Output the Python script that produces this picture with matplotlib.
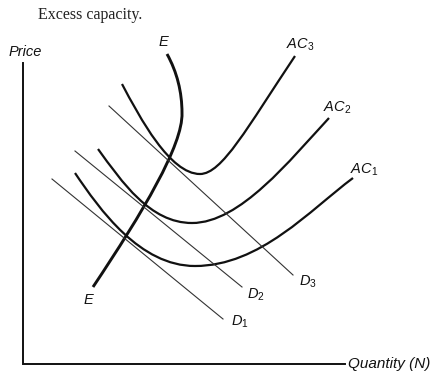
import matplotlib
matplotlib.use("Agg")
import matplotlib.pyplot as plt
from matplotlib.path import Path
from matplotlib.patches import PathPatch

plt.rcParams['mathtext.fontset'] = 'custom'
plt.rcParams['mathtext.rm'] = 'Liberation Sans'
plt.rcParams['mathtext.it'] = 'Liberation Sans:italic'

# Schematic diagram, coordinates in image units (x right, y down)
# Cubic Bezier vertex lists: anchor, ctrl, ctrl, anchor, ctrl, ctrl, anchor
ac3_pts = [(122, 84), (140, 118), (170, 174), (200, 174), (222, 174), (247, 128), (295, 56)]
ac2_pts = [(98, 149), (122, 182), (150, 223), (192, 223), (240, 223), (290, 160), (329, 118)]
ac1_pts = [(75, 173), (100, 210), (140, 266), (195, 266), (260, 266), (310, 210), (353, 178)]
e_pts = [(167, 54), (177, 72), (182, 92), (182, 113), (183, 145), (143, 212), (93, 287)]

# Demand lines (start, end)
d1 = [(52, 179), (223, 319)]
d2 = [(75, 151), (242, 287)]
d3 = [(109, 106), (293, 275)]

labels = [
    (r'$\mathit{AC}_3$', 300, 45),
    (r'$\mathit{AC}_2$', 337, 108),
    (r'$\mathit{AC}_1$', 364, 170),
    (r'$\mathit{D}_3$', 308, 282),
    (r'$\mathit{D}_2$', 256, 295),
    (r'$\mathit{D}_1$', 240, 322),
]

fig = plt.figure(figsize=(4.35, 3.73), dpi=100)
ax = fig.add_axes([0, 0, 1, 1])
ax.set_xlim(0, 435)
ax.set_ylim(373, 0)
ax.axis('off')

def bez(pts, lw):
    codes = [Path.MOVETO] + [Path.CURVE4] * (len(pts) - 1)
    ax.add_patch(PathPatch(Path(pts, codes), fill=False, lw=lw, ec='#111111',
                           capstyle='butt'))

for p in (ac3_pts, ac2_pts, ac1_pts):
    bez(p, 1.6)
bez(e_pts, 2.1)

for d in (d1, d2, d3):
    ax.plot([d[0][0], d[1][0]], [d[0][1], d[1][1]], color='#333333', lw=0.8)

# axes
ax.plot([23.5, 23.5, 345], [63, 364, 364], color='#111111', lw=1.4,
        solid_joinstyle='miter')

for t, x, y in labels:
    ax.text(x, y, t, fontsize=10.5, ha='center', va='center', color='#111111')

sans_it = dict(fontstyle='italic', family='Liberation Sans',
               color='#111111', va='center')
ax.text(163, 42, 'E', ha='center', fontsize=10.5, **sans_it)
ax.text(88, 300, 'E', ha='center', fontsize=10.5, **sans_it)
ax.text(25, 52, 'Price', ha='center', fontsize=10.5, **sans_it)
ax.text(348, 364, 'Quantity (N)', ha='left', fontsize=11, **sans_it)
ax.text(38, 15, 'Excess capacity.', fontsize=11.5, family='Liberation Serif',
        ha='left', va='center', color='#222222')

fig.savefig('out.png', dpi=100)
